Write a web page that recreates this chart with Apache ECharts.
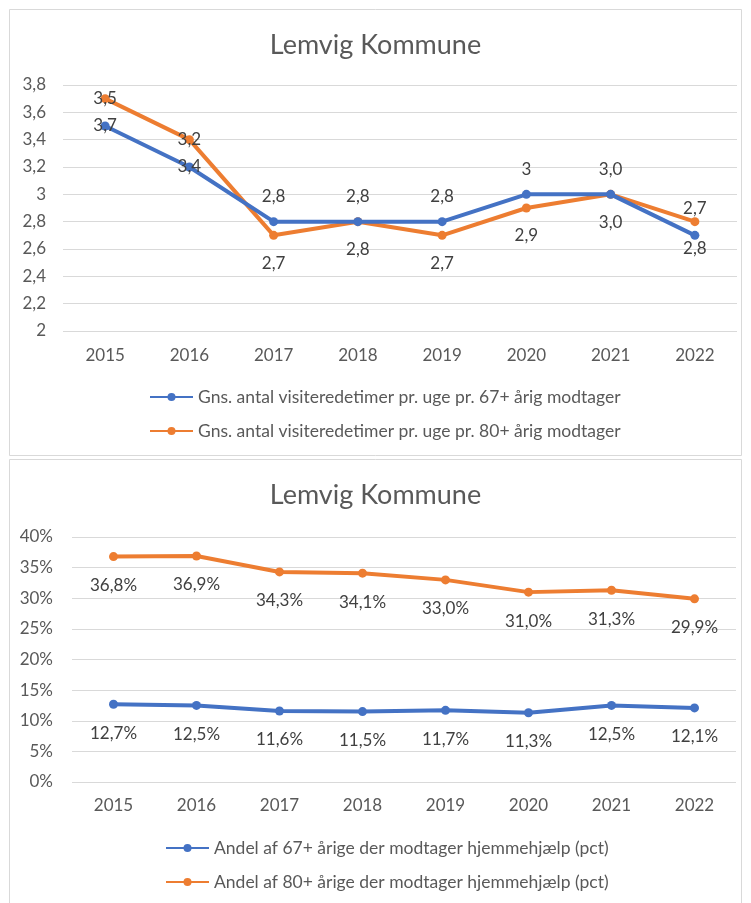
<!DOCTYPE html>
<html>
<head>
<meta charset="utf-8">
<script src="https://cdn.jsdelivr.net/npm/echarts@6/dist/echarts.min.js"></script>
<style>
html,body{margin:0;padding:0;background:#fff;}
#c{width:751px;height:903px;}
</style>
</head>
<body>
<div id="c"></div>
<script>
// ---- data ----
const years = ['2015','2016','2017','2018','2019','2020','2021','2022'];
const title1 = 'Lemvig Kommune';
const title2 = 'Lemvig Kommune';
const name67hours = 'Gns. antal visiteredetimer pr. uge pr. 67+ årig modtager';
const name80hours = 'Gns. antal visiteredetimer pr. uge pr. 80+ årig modtager';
const hours67 = [3.5, 3.2, 2.8, 2.8, 2.8, 3.0, 3.0, 2.7];
const hours80 = [3.7, 3.4, 2.7, 2.8, 2.7, 2.9, 3.0, 2.8];
const hours67Labels = ['3,7','3,4','2,8','2,8','2,8','3','3,0','2,8'];
const hours80Labels = ['3,5','3,2','2,7','2,8','2,7','2,9','3,0','2,7'];
const name67share = 'Andel af 67+ årige der modtager hjemmehjælp (pct)';
const name80share = 'Andel af 80+ årige der modtager hjemmehjælp (pct)';
const share67 = [12.7, 12.5, 11.6, 11.5, 11.7, 11.3, 12.5, 12.1];
const share80 = [36.8, 36.9, 34.3, 34.1, 33.0, 31.0, 31.3, 29.9];

// ---- layout config ----
const pos67 = ['inside','inside','top','top','top','top','top','bottom'];
const pos80 = ['inside','inside','bottom','bottom','bottom','bottom','bottom','top'];
const dist67 = [0, 0, 12, 12, 12, 12, 12, 0];
const dist80 = [0, 0, 15, 15, 15, 15, 15, 0];

const BLUE = '#4472C4', ORANGE = '#ED7D31';
const FONT = 'Lato';
const GRAY = '#595959';
const FS = 17;

function comma(v){ return String(Math.round(v*10)/10).replace('.', ','); }

function labeled(values, texts, positions, dists){
  return values.map((v,i)=>({
    value: v,
    label: { formatter: texts[i], position: positions[i], distance: dists[i] }
  }));
}

const lineBase = {
  type: 'line',
  symbol: 'circle',
  symbolSize: 9,
  lineStyle: { width: 4 },
  label: { show: true, color: '#404040', fontFamily: FONT, fontSize: FS }
};

const chart = echarts.init(document.getElementById('c'), null, {renderer:'canvas'});
chart.setOption({
  backgroundColor: '#fff',
  animation: false,
  graphic: [
    { type:'rect', shape:{x:9.5,y:9.5,width:732,height:446}, style:{fill:'none',stroke:'#d9d9d9',lineWidth:1} },
    { type:'rect', shape:{x:9.5,y:459.5,width:732,height:460}, style:{fill:'none',stroke:'#d9d9d9',lineWidth:1} }
  ],
  title: [
    { text: title1, left: 'center', top: 27, textStyle:{ color: GRAY, fontFamily: FONT, fontSize: 27, fontWeight: 'normal' } },
    { text: title2, left: 'center', top: 477, textStyle:{ color: GRAY, fontFamily: FONT, fontSize: 27, fontWeight: 'normal' } }
  ],
  legend: [
    { data:[name67hours, name80hours], orient:'vertical', left:144, top:383, itemWidth:43, itemHeight:10, itemGap:16,
      textStyle:{ color: GRAY, fontFamily: FONT, fontSize: 17.5 } },
    { data:[name67share, name80share], orient:'vertical', left:160, top:834, itemWidth:43, itemHeight:10, itemGap:16,
      textStyle:{ color: GRAY, fontFamily: FONT, fontSize: 17.5 } }
  ],
  grid: [
    { left: 63, right: 14, top: 85, height: 246 },
    { left: 72, right: 15, top: 537, height: 245 }
  ],
  xAxis: [
    { type:'category', gridIndex:0, data: years, boundaryGap:true,
      axisLine:{show:false}, axisTick:{show:false},
      axisLabel:{ color: GRAY, fontFamily: FONT, fontSize: FS, margin: 16 } },
    { type:'category', gridIndex:1, data: years, boundaryGap:true,
      axisLine:{show:false}, axisTick:{show:false},
      axisLabel:{ color: GRAY, fontFamily: FONT, fontSize: FS, margin: 15 } }
  ],
  yAxis: [
    { type:'value', gridIndex:0, min:2, max:3.8, interval:0.2,
      axisLine:{show:false}, axisTick:{show:false},
      splitLine:{ lineStyle:{ color:'#d9d9d9' } },
      axisLabel:{ color: GRAY, fontFamily: FONT, fontSize: FS, margin: 17, formatter: comma } },
    { type:'value', gridIndex:1, min:0, max:40, interval:5,
      axisLine:{show:false}, axisTick:{show:false},
      splitLine:{ lineStyle:{ color:'#d9d9d9' } },
      axisLabel:{ color: GRAY, fontFamily: FONT, fontSize: FS, margin: 19, formatter: v => v + '%' } }
  ],
  series: [
    Object.assign({}, lineBase, { name: name67hours, xAxisIndex:0, yAxisIndex:0, color: BLUE, z: 3,
      data: labeled(hours67, hours67Labels, pos67, dist67) }),
    Object.assign({}, lineBase, { name: name80hours, xAxisIndex:0, yAxisIndex:0, color: ORANGE, z: 2,
      data: labeled(hours80, hours80Labels, pos80, dist80) }),
    Object.assign({}, lineBase, { name: name67share, xAxisIndex:1, yAxisIndex:1, color: BLUE,
      data: share67,
      label: Object.assign({}, lineBase.label, { position:'bottom', distance: 16, formatter: p => comma(p.value) + '%' }) }),
    Object.assign({}, lineBase, { name: name80share, xAxisIndex:1, yAxisIndex:1, color: ORANGE,
      data: share80,
      label: Object.assign({}, lineBase.label, { position:'bottom', distance: 16, formatter: p => p.value.toFixed(1).replace('.', ',') + '%' }) })
  ]
});
</script>
</body>
</html>
